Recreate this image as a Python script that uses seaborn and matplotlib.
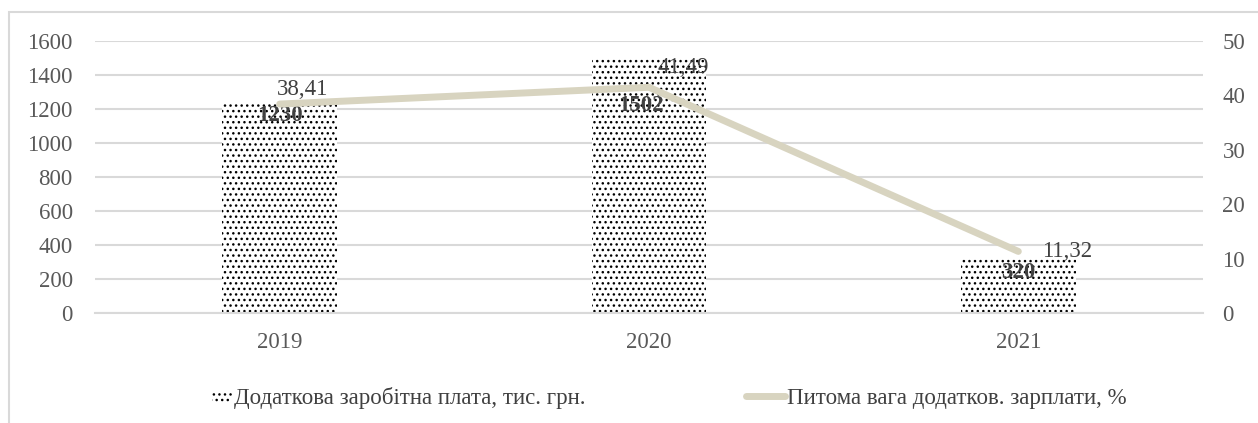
import matplotlib
matplotlib.use('Agg')
import matplotlib.pyplot as plt
import seaborn as sns
import pandas as pd
from matplotlib.patches import Patch, Rectangle
from matplotlib.lines import Line2D
from matplotlib.legend_handler import HandlerPatch

years = ['2019', '2020', '2021']
extra_pay = [1230, 1502, 320]
extra_share = [38.41, 41.49, 11.32]
share_labels = ['38,41', '41,49', '11,32']

bar_name = 'Додаткова заробітна плата, тис. грн.'
line_name = 'Питома вага додатков. зарплати, %'

# label nudges (pixels), as placed in the original
bar_lab_off = [(0, -1), (-8, -37), (0, -3)]
line_lab_off = [(-3, 4), (8, 9), (24, -11)]

df = pd.DataFrame({'year': years, 'pay': extra_pay, 'share': extra_share})

sns.set_style('white')
plt.rcParams['font.family'] = ['Liberation Serif', 'DejaVu Serif']
plt.rcParams['hatch.linewidth'] = 1.0
FS = 16.5
px = 72 / 100  # pixels -> points

fig = plt.figure(figsize=(12.58, 4.23), dpi=100)
ax = fig.add_axes([95 / 1258, 1 - 313 / 423, (1203 - 95) / 1258, 272 / 423])

sns.barplot(data=df, x='year', y='pay', ax=ax, color='white', width=0.31,
            edgecolor='black', linewidth=0, hatch='...')
ax.set_ylim(0, 1600)
ax.set_xlim(-0.5, 2.5)
ax.set_yticks(range(0, 1601, 200))
ax.yaxis.grid(True, color='#d9d9d9', linewidth=1.5)
ax.set_axisbelow(True)
for s in ax.spines.values():
    s.set_visible(False)
ax.spines['bottom'].set_visible(True)
ax.spines['bottom'].set_color('#d9d9d9')
ax.spines['bottom'].set_linewidth(1.5)
ax.tick_params(axis='y', length=0, labelsize=FS, colors='#595959', pad=16)
ax.tick_params(axis='x', length=0, labelsize=FS, colors='#595959', pad=14)
ax.set_xlabel('')
ax.set_ylabel('')

for i, v in enumerate(extra_pay):
    dx, dy = bar_lab_off[i]
    ax.annotate(str(v), (i, v), xytext=(dx * px, dy * px), textcoords='offset points',
                ha='center', va='top', fontsize=FS, fontweight='bold', color='#404040')

ax2 = ax.twinx()
sns.lineplot(data=df, x='year', y='share', ax=ax2, color='#d8d4c0', linewidth=5,
             sort=False)
ax2.set_ylim(0, 50)
ax2.set_yticks(range(0, 51, 10))
for s in ax2.spines.values():
    s.set_visible(False)
ax2.tick_params(axis='y', length=0, labelsize=FS, colors='#595959', pad=14)
ax2.set_ylabel('')
ax2.set_xlim(-0.5, 2.5)

for i, (v, lab) in enumerate(zip(extra_share, share_labels)):
    dx, dy = line_lab_off[i]
    ax2.annotate(lab, (i, v), xytext=(dx * px, dy * px), textcoords='offset points',
                 ha='left', va='bottom', fontsize=FS, color='#404040')


# small swatch at the right end of the handle box, like the original legend
def small_swatch(legend, orig_handle, xdescent, ydescent, width, height, fontsize):
    w = width * 0.5
    return Rectangle((width - w - xdescent, -ydescent + height * 0.1), w, height * 0.7)


handles = [Patch(facecolor='white', edgecolor='black', linewidth=0, hatch='...'),
           Line2D([0], [0], color='#d8d4c0', linewidth=5)]
fig.legend(handles, [bar_name, line_name], loc='center', bbox_to_anchor=(0.5243, 0.059),
           ncol=2, frameon=False, fontsize=FS, handlelength=1.7, handletextpad=0.1,
           columnspacing=7, labelcolor='#404040',
           handler_map={Patch: HandlerPatch(patch_func=small_swatch)})

fig.patches.append(Rectangle((9 / 1258, -0.1), 1.2, 1.1 - 12 / 423, transform=fig.transFigure,
                             fill=False, edgecolor='#d9d9d9', linewidth=1.5))

fig.savefig('out.png', dpi=100)
